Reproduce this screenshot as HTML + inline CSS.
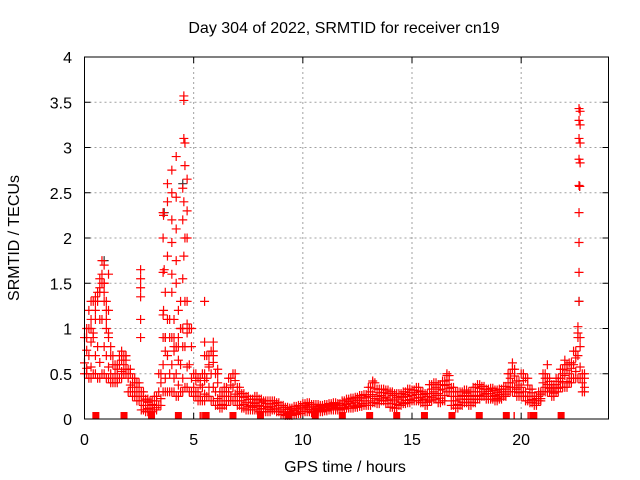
<!DOCTYPE html>
<html><head><meta charset="utf-8"><style>
html,body{margin:0;padding:0;background:#fff;}
svg{display:block;font-family:"Liberation Sans",sans-serif;}
</style></head><body>
<svg id="chart" width="640" height="480" viewBox="0 0 640 480" xmlns="http://www.w3.org/2000/svg">
<rect width="640" height="480" fill="#fff"/>
<text x="344" y="33" font-size="16" text-anchor="middle" fill="#000">Day 304 of 2022, SRMTID for receiver cn19</text>
<text x="345" y="472" font-size="16" text-anchor="middle" fill="#000">GPS time / hours</text>
<text x="0" y="0" font-size="16" text-anchor="middle" fill="#000" transform="translate(19,238) rotate(-90)">SRMTID / TECUs</text>
<g id="grid"></g><g id="axes"></g><g id="marks"></g>
<rect x="84.5" y="57" width="524" height="362" fill="none" stroke="#000" stroke-width="1"/>
</svg>
<script>
const xTicks=[0,5,10,15,20];
const yTicks=[0,0.5,1,1.5,2,2.5,3,3.5,4];
const yTickLabels=["0","0.5","1","1.5","2","2.5","3","3.5","4"];
const bandT=[];
const bandLo=[.5,.45,.5,.45,.5,.45,.4,.4,.45,.5,.3,.25,.2,.1,.08,.08,.1,.15,.3,.3,.3,.25,.3,.35,.3,.25,.2,.2,.25,.2,.15,.12,.15,.2,.2,.15,.12,.1,.1,.1,.08,.08,.08,.1,.08,.05,.04,.04,.05,.06,.08,.08,.07,.08,.08,.09,.1,.1,.1,.11,.12,.12,.13,.14,.15,.15,.18,.17,.2,.17,.13,.12,.15,.17,.18,.2,.2,.18,.15,.2,.22,.18,.2,.3,.15,.12,.15,.18,.15,.18,.22,.25,.22,.22,.2,.22,.25,.3,.3,.25,.25,.2,.18,.15,.2,.3,.3,.25,.3,.35,.35,.4,.45,.45,.3];
const bandMid=[.62,.7,.9,.8,1.1,.7,.5,.5,.6,.6,.45,.35,.3,.2,.15,.12,.15,.3,.6,.7,.6,.5,.6,.8,.6,.35,.3,.35,.45,.5,.3,.2,.25,.3,.35,.25,.2,.18,.15,.17,.15,.14,.13,.14,.12,.1,.08,.08,.09,.1,.12,.13,.11,.12,.11,.12,.13,.14,.13,.15,.16,.17,.18,.2,.2,.25,.27,.25,.26,.24,.22,.2,.22,.24,.25,.26,.27,.24,.22,.28,.3,.28,.32,.38,.25,.2,.22,.25,.22,.25,.3,.3,.28,.28,.26,.27,.3,.4,.4,.33,.35,.3,.25,.2,.25,.4,.38,.32,.38,.45,.48,.5,.6,.7,.4];
const bandHi=[.9,1.0,1.3,1.4,1.5,1.2,.7,.6,.7,.7,.55,.45,.4,.3,.22,.2,.25,.5,.9,1.1,.9,.8,1.0,1.3,1.0,.5,.45,.5,.7,.75,.5,.3,.35,.45,.5,.35,.28,.25,.22,.25,.22,.2,.2,.2,.18,.15,.13,.12,.14,.15,.17,.18,.16,.16,.15,.16,.17,.18,.17,.2,.22,.23,.24,.26,.27,.35,.4,.33,.33,.32,.3,.28,.28,.3,.33,.32,.35,.3,.28,.38,.4,.38,.42,.48,.35,.3,.3,.32,.3,.35,.38,.36,.33,.34,.32,.33,.36,.5,.55,.42,.5,.45,.33,.25,.3,.5,.45,.38,.45,.55,.6,.62,.75,.9,.5];
for(let i=0;i<bandLo.length;i++)bandT.push(+(i*0.2).toFixed(1));
const spikeT=[0.1,0.2,0.3,0.3,0.4,0.5,0.5,0.6,0.7,0.7,0.8,0.8,0.9,0.9,0.9,1.0,1.0,1.0,1.1,1.1,1.2,1.7,1.9,2.57,2.57,2.57,2.57,2.57,2.57,3.6,3.62,3.6,3.65,3.6,3.62,3.6,3.7,3.7,3.8,3.8,3.8,4.0,4.0,4.0,4.0,4.0,4.0,4.1,4.1,4.2,4.2,4.2,4.2,4.2,4.3,4.3,4.55,4.55,4.55,4.6,4.6,4.5,4.55,4.5,4.6,4.55,4.5,4.4,4.4,4.7,4.7,4.7,4.7,5.5,5.5,5.5,5.7,5.9,5.9,6.1,22.65,22.7,22.65,22.7,22.65,22.7,22.65,22.7,22.65,22.68,22.65,22.65,22.65,22.65,22.6,22.6,13.2,16.6,19.6,21.2,22.0];
const spikeV=[1.0,1.2,1.1,1.3,0.95,1.35,1.2,1.3,1.45,1.55,1.6,1.75,1.5,1.7,1.4,1.3,1.1,1.0,1.6,0.9,0.8,0.75,0.7,1.65,1.55,1.45,1.35,1.1,0.9,2.28,2.25,2.0,1.65,1.62,1.2,1.15,0.9,1.4,1.8,2.4,2.6,2.75,2.5,2.2,1.95,1.6,1.4,1.1,0.8,2.9,2.45,2.1,1.75,1.5,1.2,0.9,3.57,3.52,3.1,3.05,2.8,2.55,2.4,2.2,2.0,1.8,1.55,1.3,1.0,2.65,2.3,2.0,0.95,1.3,0.85,0.7,0.6,0.85,0.7,0.55,3.43,3.4,3.3,3.25,3.1,3.05,2.87,2.83,2.58,2.57,2.28,1.95,1.62,1.3,1.02,0.95,0.42,0.5,0.62,0.6,0.65];
const darkT=[3.65,4.5,22.68,22.65,0.9];
const darkV=[2.28,2.6,2.57,1.3,1.75];
const squareT=[0.52,1.81,3.07,4.3,5.57,6.8,8.06,9.32,10.57,11.81,13.06,14.3,15.57,16.83,18.08,19.32,20.58,21.83];
const tickT=[5.3,5.38,19.68,20.32,20.4];

const NS="http://www.w3.org/2000/svg";
const X0=84.5,X1=608.5,Y0=419,Y1=57,XMAX=24,YMAX=4;
function xs(t){return X0+(t/XMAX)*(X1-X0);}
function ys(v){return Y0-(v/YMAX)*(Y0-Y1);}
function mk(tag,attrs,parent){const e=document.createElementNS(NS,tag);for(const k in attrs)e.setAttribute(k,attrs[k]);parent.appendChild(e);return e;}
const grid=document.getElementById('grid'),axes=document.getElementById('axes'),marks=document.getElementById('marks');
xTicks.forEach(t=>{
  const x=xs(t);
  if(t>0){const g=mk('line',{x1:x,x2:x,y1:Y1,y2:Y0,stroke:'#a0a0a0','stroke-dasharray':'2,3'},grid);
  
  }
  mk('line',{x1:x,x2:x,y1:Y0,y2:Y0-6,stroke:'#000'},axes);
  mk('line',{x1:x,x2:x,y1:Y1,y2:Y1+6,stroke:'#000'},axes);
  const l=mk('text',{x:x,y:445,'font-size':16,'text-anchor':'middle',fill:'#000'},axes);
  l.textContent=String(t);
  
  
});
yTicks.forEach((v,i)=>{
  const y=ys(v);
  if(v>0&&v<YMAX){const g=mk('line',{x1:X0,x2:X1,y1:y,y2:y,stroke:'#a0a0a0','stroke-dasharray':'2,3'},grid);
  
  }
  mk('line',{x1:X0,x2:X0+6,y1:y,y2:y,stroke:'#000'},axes);
  mk('line',{x1:X1,x2:X1-6,y1:y,y2:y,stroke:'#000'},axes);
  const l=mk('text',{x:72,y:y+6,'font-size':16,'text-anchor':'end',fill:'#000'},axes);
  l.textContent=yTickLabels[i];
  
  
});
function cross(t,v,color,name){
  const x=xs(t),y=ys(v);
  const p=mk('path',{d:`M${x-4.5},${y}H${x+4.5}M${x},${y-4.5}V${y+4.5}`,stroke:color,'stroke-width':1.2,fill:'none'},marks);
  
  
}
for(let i=0;i<bandT.length;i++){
  cross(bandT[i],bandLo[i],'#f00','srmtid-point');
  cross(bandT[i]+0.1,bandLo[i],'#f00','srmtid-point');
  cross(bandT[i]+0.1,(bandLo[i]+bandMid[i])/2,'#f00','srmtid-point');
  cross(bandT[i],bandMid[i],'#f00','srmtid-point');
  cross(bandT[i]+0.1,(bandMid[i]+bandHi[i])/2,'#f00','srmtid-point');
  cross(bandT[i],bandHi[i],'#f00','srmtid-point');
  cross(bandT[i]+0.1,bandHi[i],'#f00','srmtid-point');
}
for(let i=0;i<darkT.length;i++)cross(darkT[i],darkV[i],'#333','srmtid-point-alt');
for(let i=0;i<spikeT.length;i++)cross(spikeT[i],spikeV[i],'#f00','srmtid-spike-point');
squareT.forEach(t=>{
  const r=mk('rect',{x:xs(t)-3.5,y:Y0-7,width:7,height:7,fill:'#f00'},marks);
  
  
});
tickT.forEach(t=>{
  const r=mk('rect',{x:xs(t)-0.7,y:Y0-7,width:1.4,height:7,fill:'#f00'},marks);
  
  
});
</script>
</body></html>
